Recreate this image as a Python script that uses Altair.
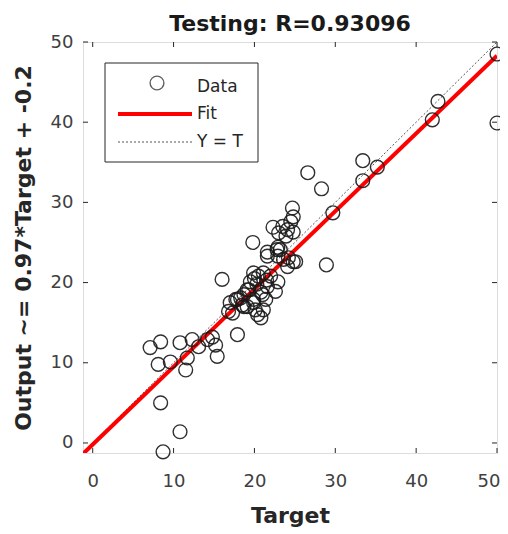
import altair as alt
import pandas as pd

# ---- data ----
target = [50.0, 50.0, 42.0, 42.7, 33.4, 33.4, 35.2, 26.6, 28.3, 29.7, 28.9, 24.7, 24.8, 24.5,
          22.3, 23.5, 24.1, 23.0, 23.9, 24.8, 19.8, 22.9, 23.2, 21.6, 22.9, 24.8, 24.1, 23.6,
          24.2, 21.6, 16.0, 19.9, 19.5, 20.5, 21.1, 22.0, 22.9, 21.6, 22.6, 19.3, 18.7, 20.8,
          17.9, 19.9, 21.4, 17.0, 18.5, 19.1, 21.1, 16.8, 20.4, 20.8, 17.9, 14.8, 15.2, 14.2,
          15.4, 13.1, 12.3, 10.8, 7.1, 8.4, 8.1, 9.6, 11.7, 11.5, 8.4, 10.8, 8.7, 25.1, 22.8,
          21.0, 19.1, 18.3, 17.7, 18.7, 19.9, 20.1, 17.3, 20.3, 21.5, 20.0]
output = [48.5, 39.9, 40.3, 42.6, 35.2, 32.7, 34.4, 33.7, 31.7, 28.7, 22.2, 29.3, 28.2, 27.6,
          26.9, 27.0, 26.6, 26.2, 25.8, 26.3, 25.0, 24.4, 24.1, 23.3, 23.3, 22.6, 22.0, 22.9,
          23.1, 23.8, 20.4, 21.2, 20.1, 20.8, 21.2, 20.8, 20.1, 19.5, 18.9, 19.1, 18.5, 18.8,
          17.9, 17.9, 17.9, 17.5, 17.2, 17.0, 16.6, 16.4, 16.0, 15.6, 13.5, 13.2, 12.2, 12.9,
          10.8, 12.0, 12.9, 12.5, 11.9, 12.6, 9.8, 10.1, 10.6, 9.1, 5.0, 1.4, -1.1, 22.6, 24.1,
          18.5, 19.1, 18.1, 17.9, 17.0, 17.5, 16.6, 16.2, 19.8, 20.3, 20.5]

fit_x = [-1.2, 50.0]
fit_y = [-1.36, 48.3]
ident_x = [-1.2, 50.0]
ident_y = [-1.2, 50.0]
tick_vals = [0, 10, 20, 30, 40, 50]
legend_labels = ["Data", "Fit", "Y = T"]

x_domain = [-1.2, 50.0]
y_domain = [-1.25, 50.0]

W, H = 414, 411

pts = pd.DataFrame({"Target": target, "Output": output})
fit = pd.DataFrame({"Target": fit_x, "Output": fit_y})
ident = pd.DataFrame({"Target": ident_x, "Output": ident_y})
ticks = pd.DataFrame({"v": tick_vals})

xs = alt.Scale(domain=x_domain, nice=False, zero=False)
ys = alt.Scale(domain=y_domain, nice=False, zero=False)

FONT = "DejaVu Sans"

x_axis = alt.Axis(title="Target", values=tick_vals, grid=False, ticks=False, tickSize=0,
                  domain=False, labelFontSize=18, labelFont=FONT, labelColor="#404040",
                  labelPadding=19, labelFlush=True, labelFlushOffset=3, titleFontSize=22,
                  titleFont=FONT, titleFontWeight="bold", titleColor="#262626", titlePadding=15)
y_axis = alt.Axis(title="Output ~= 0.97*Target + -0.2", values=tick_vals, grid=False,
                  ticks=False, tickSize=0, domain=False, labelFontSize=18, labelFont=FONT,
                  labelColor="#404040", labelPadding=10, labelFlush=False, titleFontSize=22,
                  titleFont=FONT, titleFontWeight="bold", titleColor="#262626", titlePadding=15)

ident_layer = alt.Chart(ident).mark_line(
    color="#555555", strokeWidth=1, strokeDash=[2, 2], clip=True
).encode(x=alt.X("Target:Q", scale=xs, axis=x_axis), y=alt.Y("Output:Q", scale=ys, axis=y_axis))

fit_layer = alt.Chart(fit).mark_line(color="#ff0000", strokeWidth=4, clip=True).encode(
    x=alt.X("Target:Q", scale=xs), y=alt.Y("Output:Q", scale=ys))

pt_layer = alt.Chart(pts).mark_point(
    shape="circle", size=190, filled=False, stroke="#1a1a1a", strokeWidth=1.4, opacity=0.9
).encode(x=alt.X("Target:Q", scale=xs), y=alt.Y("Output:Q", scale=ys))

tick_col = "#262626"
bt = alt.Chart(ticks).mark_rule(color=tick_col, strokeWidth=1).encode(
    x=alt.X("v:Q", scale=xs), y=alt.value(H), y2=alt.value(H - 5))
tt = alt.Chart(ticks).mark_rule(color=tick_col, strokeWidth=1).encode(
    x=alt.X("v:Q", scale=xs), y=alt.value(0), y2=alt.value(5))
lt = alt.Chart(ticks).mark_rule(color=tick_col, strokeWidth=1).encode(
    y=alt.Y("v:Q", scale=ys), x=alt.value(0), x2=alt.value(5))
rt = alt.Chart(ticks).mark_rule(color=tick_col, strokeWidth=1).encode(
    y=alt.Y("v:Q", scale=ys), x=alt.value(W), x2=alt.value(W - 5))

# ---- manual legend ----
lg_one = pd.DataFrame({"k": [0]})
lg_box = alt.Chart(lg_one).mark_rect(fill="white", stroke="#262626", strokeWidth=1).encode(
    x=alt.value(22), x2=alt.value(175), y=alt.value(21), y2=alt.value(120))
lg_circ = alt.Chart(lg_one).mark_point(shape="circle", size=190, filled=False, stroke="#1a1a1a",
                                       strokeWidth=1.4).encode(x=alt.value(74), y=alt.value(41))
lg_fit = alt.Chart(lg_one).mark_rule(color="#ff0000", strokeWidth=4).encode(
    x=alt.value(35), x2=alt.value(109), y=alt.value(72))
lg_id = alt.Chart(lg_one).mark_rule(color="#555555", strokeWidth=1, strokeDash=[2, 2]).encode(
    x=alt.value(35), x2=alt.value(109), y=alt.value(100))
lg_txt = [
    alt.Chart(pd.DataFrame({"t": [lab]})).mark_text(
        align="left", baseline="middle", fontSize=17, font=FONT, color="#262626"
    ).encode(text="t:N", x=alt.value(114), y=alt.value(yy))
    for lab, yy in zip(legend_labels, [45, 72, 100])
]

chart = alt.layer(
    ident_layer, fit_layer, pt_layer, bt, tt, lt, rt, lg_box, lg_circ, lg_fit, lg_id, *lg_txt
).properties(
    width=W, height=H,
    title=alt.TitleParams("Testing: R=0.93096", fontSize=22, font=FONT, fontWeight="bold",
                          color="#1a1a1a", offset=6, dy=9, anchor="middle"),
    autosize=alt.AutoSizeParams(type="none"),
    padding={"left": 75, "top": 34, "right": 3, "bottom": 80},
).configure_view(stroke="#262626", strokeWidth=1.2).configure(background="white")

chart.save("out.html", embed_options={"renderer": "svg", "actions": False})
